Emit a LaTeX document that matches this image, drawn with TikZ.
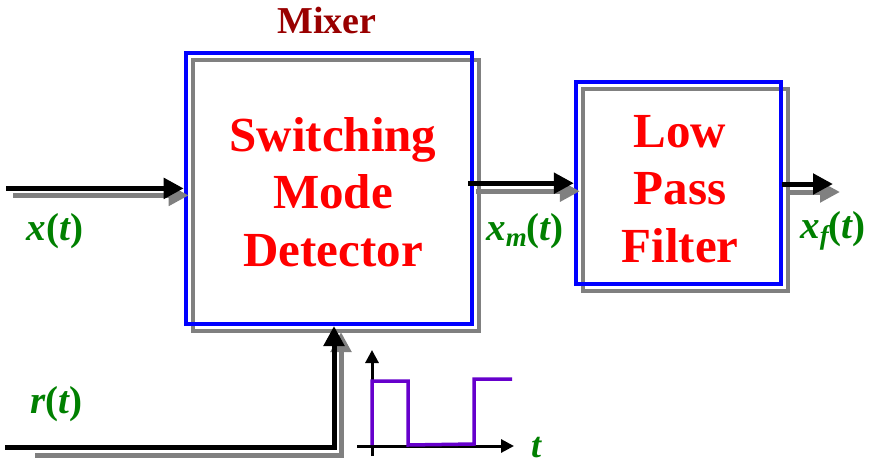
\documentclass[tikz,border=0pt]{standalone}
\usepackage{fontspec}
\setmainfont{Liberation Serif}
\usetikzlibrary{arrows.meta}
\definecolor{boxblue}{RGB}{0,0,255}
\definecolor{shadowgray}{RGB}{128,128,128}
\definecolor{sigred}{RGB}{255,0,0}
\definecolor{mixred}{RGB}{153,0,0}
\definecolor{labgreen}{RGB}{0,128,0}
\definecolor{wavepurple}{RGB}{102,0,204}
\tikzset{
  blockbox/.style={draw=boxblue, line width=4pt, fill=none, rectangle, inner sep=0pt},
  shadowbox/.style={draw=shadowgray, line width=4pt, rectangle, inner sep=0pt},
  blocktext/.style={text=sigred, align=center, font=\fontsize{49}{57.5}\selectfont\bfseries},
  sig/.style={draw=black, line width=5pt, -{Triangle[length=20pt,width=20pt]}},
  sigshadow/.style={draw=shadowgray, line width=5pt, -{Triangle[length=20pt,width=20pt]}},
  lab/.style={text=labgreen, font=\fontsize{39}{39}\selectfont\bfseries\itshape},
  axis/.style={draw=black, line width=3pt, -{Triangle[length=13pt,width=13pt]}},
  wave/.style={draw=wavepurple, line width=3.5pt, line join=miter}
}
\newcommand{\subm}[1]{\raisebox{-0.35ex}{\fontsize{27}{27}\selectfont #1}}
\begin{document}
\begin{tikzpicture}[x=1pt,y=-1pt]
\useasboundingbox (0,0) rectangle (869,466);
% shadows of boxes
\node[shadowbox, minimum width=286pt, minimum height=271pt] (mixersh) at (335.7,195.4) {};
\node[shadowbox, minimum width=205pt, minimum height=202pt] (lpfsh) at (685.4,190.2) {};
% boxes
\node[blockbox, minimum width=286pt, minimum height=271pt] (mixer) at (328.7,188.4) {};
\node[blockbox, minimum width=205pt, minimum height=202pt] (lpf) at (678.4,183.2) {};
\node[blocktext] (mixtext) at (333,192) {Switching\\Mode\\Detector};
\node[blocktext] (lpftext) at (680,189) {Low\\Pass\\Filter};
\node[text=mixred, font=\fontsize{38}{38}\selectfont\bfseries] (mixlab) at (327,20) {Mixer};
% coordinates
\coordinate (xin) at (6,188.4);
\coordinate (xmstart) at (468,183.2);
\coordinate (xfstart) at (782,184);
\coordinate (xfend) at (833,184);
\coordinate (rin) at (5,447.5);
\coordinate (rcorner) at (334,447.5);
\coordinate (rtop) at (334,326);
% shadows of signals
\draw[sigshadow] ([shift={(7,7)}]xin) -- ([shift={(5,7)}]mixer.west);
\draw[sigshadow] ([shift={(8,8)}]xmstart) -- ([shift={(6,8)}]lpf.west);
\draw[sigshadow] ([shift={(8,8)}]xfstart) -- ([shift={(7,8)}]xfend);
\draw[sigshadow, line join=miter] ([shift={(30,8)}]rin) -- ([shift={(7,8)}]rcorner) -- ([shift={(7,6)}]rtop);
% signals
\draw[sig] (xin) -- (mixer.west);
\draw[sig] (xmstart) -- (lpf.west);
\draw[sig] (xfstart) -- (xfend);
\draw[sig, line join=miter] (rin) -- (rcorner) -- (rtop);
% labels
\node[lab] (xlab) at (55,231) {x\upshape(\itshape t\upshape)};
\node[lab] (xmlab) at (525,231) {x\subm{m}\upshape(\itshape t\upshape)};
\node[lab] (xflab) at (833,231) {x\subm{f}\upshape(\itshape t\upshape)};
\node[lab] (rlab) at (56,404) {r\upshape(\itshape t\upshape)};
\node[lab, inner sep=0pt, font=\fontsize{36}{36}\selectfont\bfseries\itshape] (tlab) at (536,448) {t};
% waveform
\coordinate (vaxb) at (372,456);
\coordinate (vaxt) at (372,350);
\coordinate (haxl) at (357,446);
\coordinate (haxr) at (514,446);
\draw[axis] (vaxb) -- (vaxt);
\draw[axis] (haxl) -- (haxr);
\draw[wave] (372,445) -- (372,381) -- (408,381) -- (408,445) -- (474,444) -- (474,379) -- (512,379);
\end{tikzpicture}
\end{document}
